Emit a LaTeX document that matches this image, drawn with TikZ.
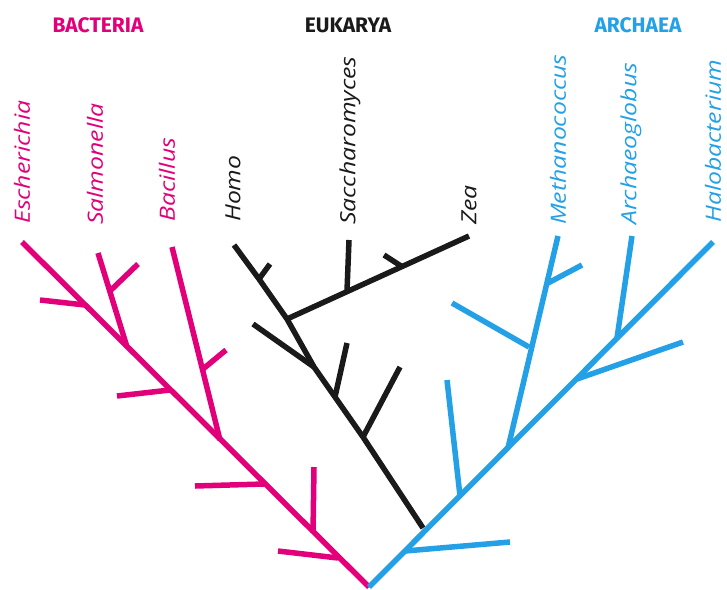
\documentclass[tikz,border=0pt]{standalone}
\usepackage{fontspec}
\setsansfont{Fira Sans}
\newfontfamily\spfont[FakeStretch=1.18]{Open Sans}
\definecolor{bact}{HTML}{E2007A}
\definecolor{arch}{HTML}{23A0E6}
\definecolor{euk}{HTML}{1A1A1A}
\begin{document}
\begin{tikzpicture}[x=1pt,y=-1pt,
  br/.style={line width=5.5pt},
  head/.style={font=\sffamily\bfseries\fontsize{21}{21}\selectfont, inner sep=0pt, anchor=center},
  sp/.style={font=\spfont\itshape\fontsize{21}{21}\selectfont, rotate=90, anchor=west, inner sep=0pt}]
\useasboundingbox (0,0) rectangle (727,589);

% headers
\node[head, text=bact] (hB) at (98,25) {BACTERIA};
\node[head, text=euk]  (hE) at (348,25) {EUKARYA};
\node[head, text=arch] (hA) at (638,25) {ARCHAEA};

% species labels
\node[sp, text=bact] (lEsch) at (22,224) {Escherichia};
\node[sp, text=bact] (lSalm) at (95,225) {Salmonella};
\node[sp, text=bact] (lBac)  at (167,222) {Bacillus};
\node[sp, text=euk]  (lHomo) at (233,222) {Homo};
\node[sp, text=euk]  (lSacc) at (350,225) {Saccharomyces};
\node[sp, text=euk]  (lZea)  at (469,225) {Zea};
\node[sp, text=arch] (lMeth) at (558,225) {Methanococcus};
\node[sp, text=arch] (lArch) at (631,225) {Archaeoglobus};
\node[sp, text=arch] (lHalo) at (713,223) {Halobacterium};

% root
\coordinate (root) at (369,587);

% ---------- Bacteria ----------
\coordinate (bEsch) at (22,242);
\coordinate (b1) at (85,305);   \coordinate (b1t) at (40,300);
\coordinate (b2) at (127,347);  \coordinate (bSalm) at (98,253);
\coordinate (b2a) at (110,291); \coordinate (b2at) at (138,264);
\coordinate (b3) at (170,390);  \coordinate (b3t) at (117,396);
\coordinate (b4) at (220,440);  \coordinate (bBac) at (172,247);
\coordinate (b4a) at (203,369); \coordinate (b4at) at (226,350);
\coordinate (b5) at (264,484);  \coordinate (b5t) at (195,486);
\coordinate (b6) at (313,533);  \coordinate (b6t) at (314,467);
\coordinate (b7) at (338,558);  \coordinate (b7t) at (278,551);

\begin{scope}[br, draw=bact]
\draw (root) -- (bEsch);
\draw (b1) -- (b1t);
\draw (b2) -- (bSalm);
\draw (b2a) -- (b2at);
\draw (b3) -- (b3t);
\draw (b4) -- (bBac);
\draw (b4a) -- (b4at);
\draw (b5) -- (b5t);
\draw (b6) -- (b6t);
\draw (b7) -- (b7t);
\end{scope}

% ---------- Eukarya ----------
\coordinate (eHomo) at (234,245);
\coordinate (e1) at (259,279);  \coordinate (e1t) at (270,264);
\coordinate (e2) at (287,319);  \coordinate (eZea) at (469,236);
\coordinate (e2a) at (347,291); \coordinate (eSacc) at (349,240);
\coordinate (e2b) at (401,266); \coordinate (e2bt) at (384,255);
\coordinate (e3) at (314,367);  \coordinate (e3t) at (253,324);
\coordinate (e4) at (335,397);  \coordinate (e4t) at (347,343);
\coordinate (e5) at (363,437);  \coordinate (e5t) at (400,367);
\coordinate (eBot) at (423,528);

\begin{scope}[br, draw=euk]
\draw (eHomo) -- (e1) -- (e2) -- (e3) -- (e4) -- (e5) -- (eBot);
\draw (e1) -- (e1t);
\draw (e2) -- (eZea);
\draw (e2a) -- (eSacc);
\draw (e2b) -- (e2bt);
\draw (e3) -- (e3t);
\draw (e4) -- (e4t);
\draw (e5) -- (e5t);
\end{scope}

% ---------- Archaea ----------
\coordinate (aHalo) at (713,242);
\coordinate (a1) at (405,551);  \coordinate (a1t) at (510,542);
\coordinate (a2) at (460,496);  \coordinate (a2t) at (447,380);
\coordinate (a3) at (508,448);  \coordinate (aMeth) at (558,236);
\coordinate (a3a) at (529,347); \coordinate (a3at) at (452,303);
\coordinate (a3b) at (548,283); \coordinate (a3bt) at (582,265);
\coordinate (a4) at (577,379);  \coordinate (a4t) at (683,342);
\coordinate (a5) at (617,338);  \coordinate (aArch) at (632,236);

\begin{scope}[br, draw=arch]
\draw (root) -- (aHalo);
\draw (a1) -- (a1t);
\draw (a2) -- (a2t);
\draw (a3) -- (aMeth);
\draw (a3a) -- (a3at);
\draw (a3b) -- (a3bt);
\draw (a4) -- (a4t);
\draw (a5) -- (aArch);
\end{scope}
\end{tikzpicture}
\end{document}
